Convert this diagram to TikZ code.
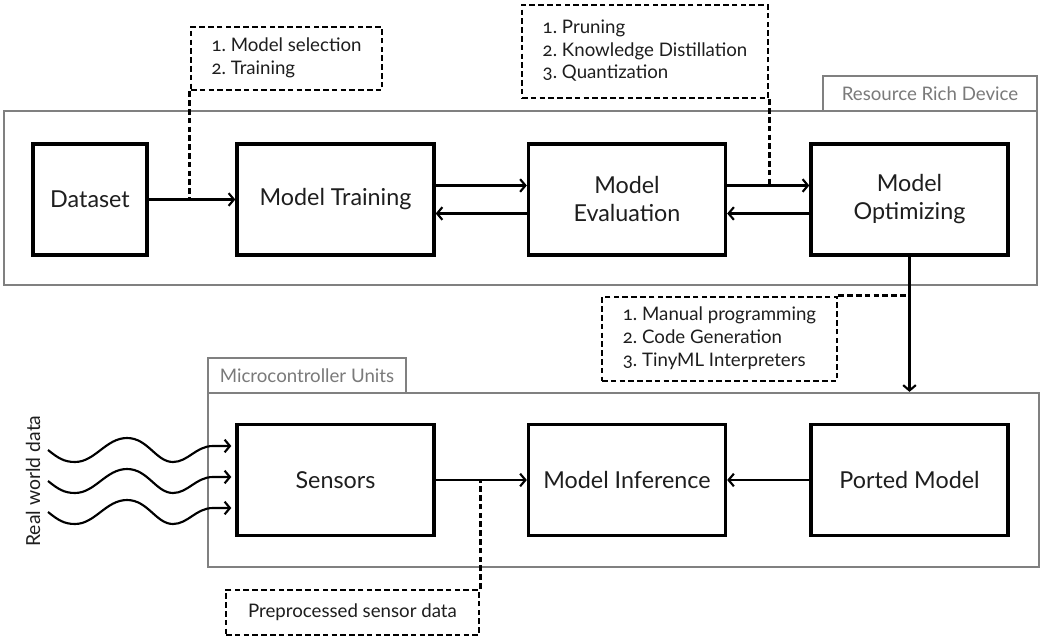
\documentclass[tikz,border=0pt]{standalone}
\usepackage{fontspec}
\setmainfont{Lato}[Numbers=OldStyle]
\usetikzlibrary{arrows.meta}
\definecolor{contgray}{HTML}{808080}
\definecolor{tabtext}{HTML}{7A7A7A}
\definecolor{ink}{HTML}{1E1E1E}
\begin{document}
\begin{tikzpicture}[x=0.75pt,y=-0.75pt,
  box/.style={draw=black, line width=2.5pt, fill=white, minimum width=147.75pt, minimum height=83.25pt,
    font=\fontsize{17.5}{21}\selectfont, text=ink, align=center, inner sep=0pt},
  cont/.style={draw=contgray, line width=1.7pt, inner sep=0pt},
  tabbox/.style={cont, fill=white, text=tabtext, font=\fontsize{14}{16}\selectfont},
  note/.style={draw=black, fill=white, line width=2.1pt, dash pattern=on 4.2pt off 2.4pt,
    font=\fontsize{14}{17}\selectfont, text=ink, inner sep=0pt},
  arr/.style={line width=1.6pt, -{Straight Barb[length=4pt,width=9.5pt,line width=1.6pt]}},
  dotl/.style={line width=2.1pt, dash pattern=on 4.2pt off 2.4pt}]
\useasboundingbox (0,0) rectangle (1058,638);

% containers
\node[cont, minimum width=774.75pt, minimum height=130.5pt] (rich) at (520.5,198) {};
\node[tabbox, minimum width=160.5pt, minimum height=26.25pt] (richtab) at (930,93.5) {Resource Rich Device};
\node[cont, minimum width=623.25pt, minimum height=130.5pt] (mcu) at (623.5,480) {};
\node[tabbox, minimum width=148.5pt, minimum height=26.25pt] (mcutab) at (307,375.5) {Microcontroller Units};

% boxes
\node[box, minimum width=85.5pt] (dataset) at (90,199.5) {Dataset};
\node[box] (training) at (335.5,199.5) {Model Training};
\node[box] (eval) at (627,199.5) {Model\\Evaluation};
\node[box] (optim) at (909.5,199.5) {Model\\Optimizing};
\node[box] (sensors) at (335.5,480) {Sensors};
\node[box] (infer) at (627,480) {Model Inference};
\node[box] (ported) at (909.5,480) {Ported Model};

% notes
\node[note, minimum width=143.25pt, minimum height=47.25pt] (n1) at (286.5,58.5)
  {\begin{tabular}{@{}r@{\ }l@{}}1.&Model selection\\2.&Training\end{tabular}};
\node[note, minimum width=184.5pt, minimum height=69.75pt] (n2) at (645,51.5)
  {\begin{tabular}{@{}r@{\ }l@{}}1.&Pruning\\2.&Knowledge Distillation\\3.&Quantization\end{tabular}};
\node[note, minimum width=176.25pt, minimum height=63pt] (n3) at (719.5,339)
  {\begin{tabular}{@{}r@{\ }l@{}}1.&Manual programming\\2.&Code Generation\\3.&TinyML Interpreters\end{tabular}};
\node[note, minimum width=189.75pt, minimum height=33.75pt] (n4) at (352.5,612.5) {Preprocessed sensor data};

\node[rotate=90, font=\fontsize{14.5}{16}\selectfont, text=ink] (rw) at (33,481) {Real world data};

% connectors
\coordinate (t2e) at ([yshift=10.5pt]training.east);
\coordinate (e2o) at ([yshift=10.5pt]eval.east);
\coordinate (e2t) at ([yshift=-10.5pt]eval.west);
\coordinate (o2e) at ([yshift=-10.5pt]optim.west);
\draw[arr] (dataset) -- (training);
\draw[arr] (t2e) -- (t2e -| eval.west);
\draw[arr] (e2t) -- (e2t -| training.east);
\draw[arr] (e2o) -- (e2o -| optim.west);
\draw[arr] (o2e) -- (o2e -| eval.east);
\draw[arr] (optim.south) -- (optim.south |- mcu.north);
\draw[arr] (sensors) -- (infer);
\draw[arr] (ported) -- (infer);

\draw[dotl] (n1.south west) -- (n1.south west |- dataset.east);
\draw[dotl] (n2.south east) -- (n2.south east |- e2o);
\draw[dotl] (n3.north east) -- (optim.south |- n3.north);
\draw[dotl] (n4.north east) -- (n4.north east |- sensors.east);

% waves
\foreach \yy/\i in {446/a,477/b,508/c}{
  \coordinate (ws\i) at (48,{\yy+4});
  \coordinate (we\i) at (0,\yy);
  \draw[arr] (ws\i) .. controls (58,{\yy+12}) and (64,{\yy+16}) .. (75,{\yy+16})
    .. controls (95,{\yy+16}) and (106,{\yy-8}) .. (127,{\yy-8})
    .. controls (148,{\yy-8}) and (156,{\yy+16}) .. (173,{\yy+16})
    .. controls (188,{\yy+16}) and (196,{\yy}) .. (213,{\yy})
    -- ([xshift=-3pt]sensors.west |- we\i);
}
\end{tikzpicture}
\end{document}
